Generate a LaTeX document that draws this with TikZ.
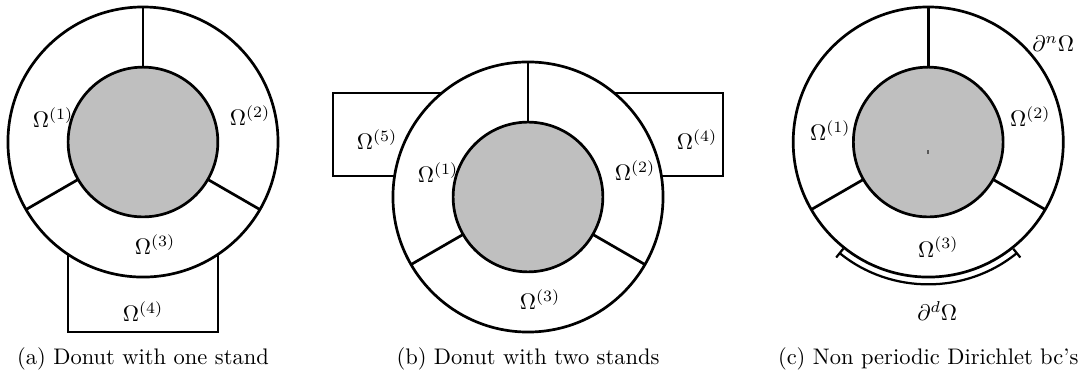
\documentclass[tikz,border=0pt]{standalone}
\usepackage{amsmath,amssymb}
\usetikzlibrary{arrows.meta}
\newcommand{\Ro}{2.11}
\newcommand{\Ri}{1.17}
\tikzset{
  wall/.style={line width=1.2pt},
  hole/.style={wall,fill=lightgray},
  stand/.style={wall,fill=white},
  lbl/.style={inner sep=1pt},
  captxt/.style={inner sep=1pt},
  bc/.style={line width=1pt,{Bar[width=5pt,line width=1pt]}-{Bar[width=5pt,line width=1pt]}},
}

\begin{document}
\begin{tikzpicture}
  \useasboundingbox (-2.234,-3.594) rectangle (14.688,2.219);
  % stands first, the donuts cover them
  \draw[stand] (-\Ri,0) rectangle (\Ri,-2.969);
  \draw[stand] (6.016-3.047,-0.859+0.328) rectangle (6.016+3.047,-0.859+1.625);
  % donuts
  \foreach \cx/\cy in {0/0,6.016/-0.859,12.27/0}{
    \begin{scope}[shift={(\cx,\cy)}]
      \draw[stand] (0,0) circle (\Ro);
      \draw[hole] (0,0) circle (\Ri);
      \foreach \a in {90,210,330}
        \draw[wall] (\a:\Ri) -- (\a:\Ro);
    \end{scope}
  }
  % (a)
  \node[lbl] (a1) at (-1.406,0.383) {$\Omega^{(1)}$};
  \node[lbl] (a2) at (1.672,0.414) {$\Omega^{(2)}$};
  \node[lbl] (a3) at (0.188,-1.609) {$\Omega^{(3)}$};
  \node[lbl] (a4) at (0,-2.656) {$\Omega^{(4)}$};
  \node[captxt] (capa) at (0,-3.39) {(a) Donut with one stand};
  % (b)
  \begin{scope}[shift={(6.016,-0.859)}]
    \node[lbl] (b1) at (-1.406,0.383) {$\Omega^{(1)}$};
    \node[lbl] (b2) at (1.672,0.414) {$\Omega^{(2)}$};
    \node[lbl] (b3) at (0.188,-1.609) {$\Omega^{(3)}$};
    \node[lbl] (b4) at (2.641,0.891) {$\Omega^{(4)}$};
    \node[lbl] (b5) at (-2.359,0.891) {$\Omega^{(5)}$};
  \end{scope}
  \node[captxt] (capb) at (6.016,-3.39) {(b) Donut with two stands};
  % (c)
  \begin{scope}[shift={(12.27,0)}]
    \fill[black!65] (-0.012,-0.19) rectangle (0.012,-0.13);
    \node[lbl] (c1) at (-1.531,0.172) {$\Omega^{(1)}$};
    \node[lbl] (c2) at (1.594,0.391) {$\Omega^{(2)}$};
    \node[lbl] (c3) at (0.156,-1.641) {$\Omega^{(3)}$};
    \node[lbl] (cn) at (1.953,1.531) {$\partial^n\Omega$};
    \node[lbl] (cd) at (0.141,-2.641) {$\partial^d\Omega$};
    \draw[bc] (231:2.22) arc[start angle=231,end angle=309,radius=2.22];
  \end{scope}
  \node[captxt] (capc) at (12.27,-3.39) {(c) Non periodic Dirichlet bc's};
\end{tikzpicture}
\end{document}
